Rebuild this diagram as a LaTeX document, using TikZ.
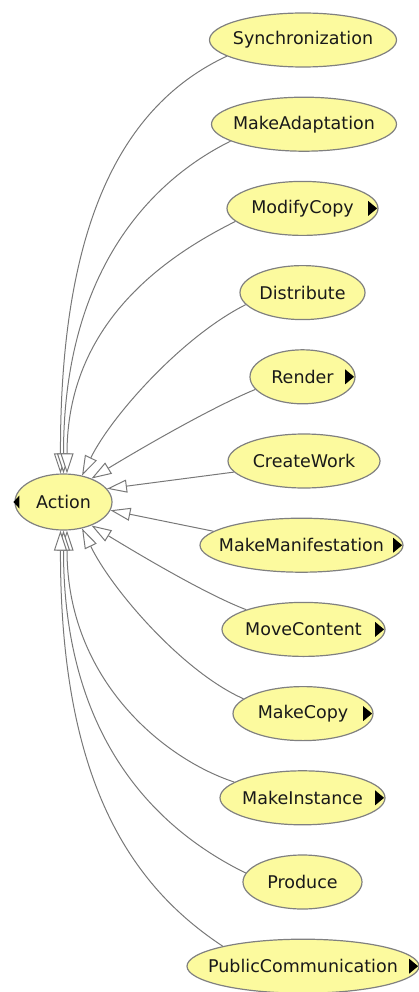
\documentclass[tikz,border=0pt]{standalone}
\usepackage{fontspec}
\setmainfont{DejaVu Sans}
\usetikzlibrary{arrows.meta,shapes.geometric}
\definecolor{nodefill}{RGB}{252,250,158}
\definecolor{nodeline}{RGB}{128,128,128}
\definecolor{edgecol}{RGB}{120,120,120}
\definecolor{txt}{RGB}{25,25,25}
\tikzset{
  cls/.style={ellipse, draw=nodeline, line width=1.2pt, fill=nodefill, inner sep=0pt,
    minimum height=54pt, font=\fontsize{17.5}{20}\selectfont, text=txt},
  isa/.style={draw=edgecol, line width=1pt,
    -{Triangle[length=20pt,width=13pt,fill=white]}},
  expander/.style={fill=black}
}
\newcommand{\lbl}[1]{\makebox[0pt]{#1}}
\begin{document}
\begin{tikzpicture}[x=1pt,y=-1pt]
\useasboundingbox (0,0) rectangle (418,992);
% nodes
\node[cls, minimum width=97pt, minimum height=56pt] (Action) at (63.5,502) {\lbl{Action}};
\node[cls, minimum width=187pt] (Sync) at (303,40) {\lbl{Synchronization}};
\node[cls, minimum width=185pt] (MakeAdapt) at (304,124.2) {\lbl{MakeAdaptation}};
\node[cls, minimum width=151pt] (ModifyCopy) at (302.5,208.4) {\lbl{ModifyCopy}};
\node[cls, minimum width=125pt] (Distribute) at (302.5,292.6) {\lbl{Distribute}};
\node[cls, minimum width=105pt] (Render) at (302.5,376.8) {\lbl{Render}};
\node[cls, minimum width=152pt] (CreateWork) at (304,461) {\lbl{CreateWork}};
\node[cls, minimum width=203pt] (MakeManif) at (301.5,545.2) {\lbl{MakeManifestation}};
\node[cls, minimum width=163pt] (MoveContent) at (303.5,629.4) {\lbl{MoveContent}};
\node[cls, minimum width=140pt] (MakeCopy) at (303,713.6) {\lbl{MakeCopy}};
\node[cls, minimum width=165pt] (MakeInstance) at (302.5,797.8) {\lbl{MakeInstance}};
\node[cls, minimum width=119pt] (Produce) at (302.5,882) {\lbl{Produce}};
\node[cls, minimum width=232pt] (PublicComm) at (303,966.2) {\lbl{PublicCommunication}};
% expander triangles
\foreach \n in {ModifyCopy,Render,MakeManif,MoveContent,MakeCopy,MakeInstance,PublicComm}
  \fill[expander] (\n.east) ++(-1.5,0) -- ++(-9,-7.5) -- ++(0,15) -- cycle;
\fill[expander] (Action.west) ++(-1,0) -- ++(6,-6.5) -- ++(0,13) -- cycle;
% edges
\draw[isa] (Sync.192) .. controls (122,105) and (60,224) .. (Action.96);
\draw[isa] (MakeAdapt.193) .. controls (148,182) and (63.5,274) .. (Action.90);
\draw[isa] (ModifyCopy.191.5) .. controls (164,257) and (67,324) .. (Action.83);
\draw[isa] (Distribute.192) .. controls (183,336) and (112,415) .. (Action.55);
\draw[isa] (Render.195) .. controls (210,408) and (135,452) .. (Action.40);
\draw[isa] (CreateWork.189) -- (Action.17);
\draw[isa] (MakeManif.171) -- (Action.-10);
\draw[isa] (MoveContent.161) .. controls (205,594) and (135,552) .. (Action.-40);
\draw[isa] (MakeCopy.166) .. controls (183,672) and (112,590) .. (Action.-55);
\draw[isa] (MakeInstance.167) .. controls (164,759) and (67,680) .. (Action.-83);
\draw[isa] (Produce.171) .. controls (148,825) and (63.5,730) .. (Action.-90);
\draw[isa] (PublicComm.166) .. controls (130,885) and (60,780) .. (Action.-96);
\end{tikzpicture}
\end{document}
